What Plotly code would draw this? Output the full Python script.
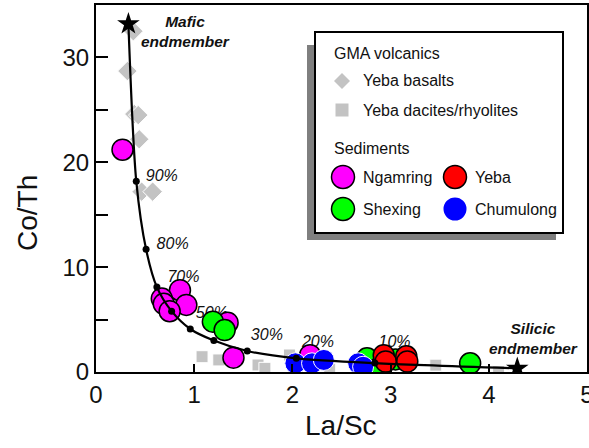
import plotly.graph_objects as go

# ---- data -------------------------------------------------------------
# GMA volcanics
basalt_la_sc = [0.38, 0.32, 0.39, 0.43, 0.44, 0.465, 0.577]
basalt_co_th = [32.5, 28.7, 24.6, 24.5, 22.2, 17.2, 17.2]
dacite_la_sc = [1.08, 1.25, 1.65, 1.72, 1.97, 2.38, 3.46, 4.10]
dacite_co_th = [1.46, 1.15, 0.67, 0.35, 1.62, 0.26, 0.65, 0.05]

# Sediments
ngamring_la_sc = [0.27, 0.855, 0.67, 0.69, 0.92, 0.75, 1.34, 1.40, 2.18]
ngamring_co_th = [21.2, 7.8, 7.0, 6.5, 6.4, 5.8, 4.7, 1.37, 1.6]
shexing_la_sc = [1.19, 1.31, 2.76, 2.89, 3.05, 3.81]
shexing_co_th = [4.8, 4.0, 1.3, 0.45, 1.2, 0.83]
yeba_la_sc = [2.93, 2.95, 3.16, 3.17]
yeba_co_th = [1.6, 1.0, 1.5, 1.0]
chumulong_la_sc = [2.03, 2.20, 2.32, 2.67, 2.72]
chumulong_co_th = [0.83, 0.83, 1.15, 0.83, 0.5]

# Mixing curve between mafic (100 %) and silicic (0 %) endmembers
mix_pct = [100, 90, 80, 70, 60, 50, 40, 30, 20, 10, 0]
mix_la_sc = [0.33, 0.41, 0.51, 0.62, 0.77, 0.96, 1.20, 1.54, 2.04, 2.84, 4.29]
mix_co_th = [33.2, 18.2, 11.7, 8.1, 5.8, 4.1, 3.0, 2.0, 1.3, 0.85, 0.35]

# Labelled mixing proportions
pct_labels = ["90%", "80%", "70%", "50%", "30%", "20%", "10%"]
pct_label_x = [0.67, 0.78, 0.89, 1.18, 1.74, 2.26, 3.04]
pct_label_y = [18.6, 12.1, 8.95, 5.5, 3.47, 2.8, 2.8]

x_ticks = [0, 1, 2, 3, 4, 5]
x_ticktext = ["0", "1", "2", "3", "4", "5"]
y_ticks = [0, 5, 10, 15, 20, 25, 30, 35]
y_ticktext = ["0", "", "10", "", "20", "", "30", ""]

# ---- figure -----------------------------------------------------------
FONT = "Liberation Sans, Arial, sans-serif"
GRAY = "#c3c3c3"
fig = go.Figure()

# percentage labels sit underneath the sample symbols
fig.add_trace(go.Scatter(
    x=pct_label_x, y=pct_label_y, text=[f"<i>{t}</i>" for t in pct_labels],
    mode="text", textfont=dict(family=FONT, size=16, color="#111"),
    hoverinfo="skip"))

fig.add_trace(go.Scatter(
    x=basalt_la_sc, y=basalt_co_th, mode="markers", name="Yeba basalts",
    marker=dict(symbol="diamond", size=15, color=GRAY,
                line=dict(color="white", width=1))))
fig.add_trace(go.Scatter(
    x=dacite_la_sc, y=dacite_co_th, mode="markers", name="Yeba dacites/rhyolites",
    marker=dict(symbol="square", size=12, color=GRAY,
                line=dict(color="white", width=1))))

circle_line = dict(color="black", width=1.5)
fig.add_trace(go.Scatter(
    x=ngamring_la_sc, y=ngamring_co_th, mode="markers", name="Ngamring",
    marker=dict(size=21, color="#ff00ff", line=circle_line)))
fig.add_trace(go.Scatter(
    x=shexing_la_sc, y=shexing_co_th, mode="markers", name="Shexing",
    marker=dict(size=21, color="#00ff00", line=circle_line)))
fig.add_trace(go.Scatter(
    x=yeba_la_sc, y=yeba_co_th, mode="markers", name="Yeba",
    marker=dict(size=21, color="#ff0000", line=circle_line)))
fig.add_trace(go.Scatter(
    x=chumulong_la_sc, y=chumulong_co_th, mode="markers", name="Chumulong",
    marker=dict(size=21, color="#0000ff", line=dict(color="white", width=1))))

# mixing hyperbola, its 10 % steps and the two endmembers
fig.add_trace(go.Scatter(
    x=mix_la_sc, y=mix_co_th, mode="lines",
    line=dict(color="black", width=2.2, shape="spline", smoothing=0.8),
    hoverinfo="skip"))
fig.add_trace(go.Scatter(
    x=mix_la_sc[1:-1], y=mix_co_th[1:-1], mode="markers",
    marker=dict(size=7, color="black"), text=[f"{p}%" for p in mix_pct[1:-1]]))
fig.add_trace(go.Scatter(
    x=[mix_la_sc[0], mix_la_sc[-1]], y=[mix_co_th[0], mix_co_th[-1]],
    mode="markers", marker=dict(symbol="star", size=17, color="black")))

# ---- axes ---------------------------------------------------------------
L, R, T, B = 96, 587, 5, 372
W, H = R - L, B - T


def px(x):
    return (x - L) / W


def py(y):
    return (B - y) / H


axis_common = dict(showgrid=False, zeroline=False, showline=True,
                   linecolor="black", linewidth=2, mirror=True,
                   ticks="inside", tickcolor="black", tickwidth=1.5,
                   automargin=False, ticklabeloverflow="allow",
                   tickfont=dict(family=FONT, size=24, color="#111"))
fig.update_xaxes(range=[0, 5], tickmode="array", tickvals=x_ticks,
                 ticktext=x_ticktext, ticklen=8, **axis_common)
fig.update_yaxes(range=[0, 35], tickmode="array", tickvals=y_ticks,
                 ticktext=y_ticktext, ticklen=12, **axis_common)

annotations = [
    dict(x=px(341), y=py(425), text="La/Sc"),
    dict(x=px(28), y=py(213), text="Co/Th", textangle=-90),
]
for a in annotations:
    a.update(xref="paper", yref="paper", showarrow=False,
             xanchor="center", yanchor="middle",
             font=dict(family=FONT, size=28, color="#111"))

for txt, cx, cy in [("Mafic<br>endmember", 185, 31),
                    ("Silicic<br>endmember", 533, 338)]:
    annotations.append(dict(
        x=px(cx), y=py(cy), xref="paper", yref="paper", showarrow=False,
        xanchor="center", yanchor="middle",
        text=f"<b><i>{txt}</i></b>", align="center",
        font=dict(family=FONT, size=15.5, color="#111")))

# ---- hand-built legend box ---------------------------------------------
shapes = [
    dict(type="rect", xref="paper", yref="paper", layer="above",
         x0=px(307), x1=px(556), y0=py(240), y1=py(45),
         fillcolor="#7f7f7f", line=dict(width=0)),
    dict(type="rect", xref="paper", yref="paper", layer="above",
         x0=px(315), x1=px(563), y0=py(233), y1=py(32),
         fillcolor="white", line=dict(color="black", width=2)),
]


def legend_symbol(kind, cx, cy, color, outline):
    common = dict(xref="paper", yref="paper", layer="above",
                  xsizemode="pixel", ysizemode="pixel",
                  xanchor=px(cx), yanchor=py(cy), fillcolor=color,
                  line=dict(color=outline, width=1.5 if outline != color else 0))
    if kind == "circle":
        return dict(type="circle", x0=-11.5, x1=11.5, y0=-11.5, y1=11.5, **common)
    if kind == "square":
        return dict(type="rect", x0=-6.5, x1=6.5, y0=-6.5, y1=6.5, **common)
    return dict(type="path", path="M -8 0 L 0 8 L 8 0 L 0 -8 Z", **common)


shapes += [
    legend_symbol("diamond", 342, 81, GRAY, GRAY),
    legend_symbol("square", 342, 110, GRAY, GRAY),
    legend_symbol("circle", 343, 177, "#ff00ff", "black"),
    legend_symbol("circle", 455, 177, "#ff0000", "black"),
    legend_symbol("circle", 343, 209, "#00ff00", "black"),
    legend_symbol("circle", 455, 209, "#0000ff", "#0000ff"),
]

for txt, lx, ly in [("GMA volcanics", 332, 54), ("Yeba basalts", 361, 81),
                    ("Yeba dacites/rhyolites", 361, 110), ("Sediments", 332, 148),
                    ("Ngamring", 361, 177), ("Yeba", 473, 177),
                    ("Shexing", 361, 209), ("Chumulong", 473, 209)]:
    annotations.append(dict(
        x=px(lx), y=py(ly), xref="paper", yref="paper", showarrow=False,
        xanchor="left", yanchor="middle", text=txt,
        font=dict(family=FONT, size=16, color="#111")))

fig.update_layout(
    width=589, height=448, showlegend=False,
    margin=dict(l=L, r=589 - R, t=T, b=448 - B),
    paper_bgcolor="white", plot_bgcolor="white",
    annotations=annotations, shapes=shapes,
)

fig.write_html("out.html")
